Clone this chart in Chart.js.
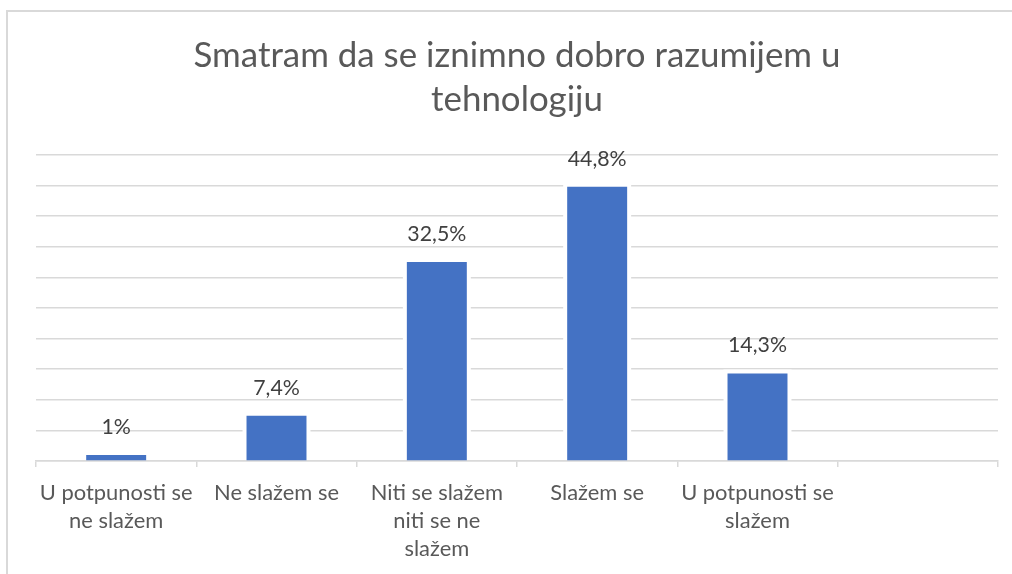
<!DOCTYPE html>
<html>
<head>
<meta charset="utf-8">
<script src="https://cdn.jsdelivr.net/npm/chart.js@4/dist/chart.umd.min.js"></script>
<style>
  html, body { margin: 0; padding: 0; background: #ffffff; }
  #wrap { position: relative; width: 1012px; height: 574px; }
</style>
</head>
<body>
<div id="wrap"><canvas id="c" width="1012" height="574"></canvas></div>
<script>
// ---- data ----
const titleLines = ["Smatram da se iznimno dobro razumijem u", "tehnologiju"];
const categories = [
  ["U potpunosti se", "ne slažem"],
  ["Ne slažem se"],
  ["Niti se slažem", "niti se ne", "slažem"],
  ["Slažem se"],
  ["U potpunosti se", "slažem"],
  [""]
];
const values = [1, 7.4, 32.5, 44.8, 14.3, null];
const yMin = 0, yMax = 50, yStep = 5;

// ---- styling helpers ----
const FAMILY = "Lato, 'Open Sans', 'Noto Sans', sans-serif";
function fitSize(text, targetWidth) {
  const ctx = document.createElement('canvas').getContext('2d');
  ctx.font = '100px ' + FAMILY;
  const w = ctx.measureText(text).width;
  return Math.round(100 * targetWidth / w * 10) / 10;
}
const titleSize = fitSize(titleLines[0], 647);
const labelSize = fitSize("U potpunosti se", 153);
const valueSize = fitSize("44,8%", 59);

const frame = {
  id: 'frame',
  beforeDraw(chart) {
    const ctx = chart.ctx;
    ctx.save();
    ctx.strokeStyle = '#d9d9d9';
    ctx.lineWidth = 2;
    ctx.beginPath();
    ctx.moveTo(7, 574);
    ctx.lineTo(7, 11);
    ctx.lineTo(1012, 11);
    ctx.stroke();
    ctx.restore();
  }
};

const barHalo = {
  id: 'barHalo',
  beforeDatasetsDraw(chart) {
    const ctx = chart.ctx;
    const meta = chart.getDatasetMeta(0);
    ctx.save();
    ctx.fillStyle = '#ffffff';
    meta.data.forEach((bar, i) => {
      if (values[i] == null) return;
      const p = bar.getProps(['x', 'y', 'base', 'width'], true);
      ctx.fillRect(p.x - p.width / 2 - 4, p.y - 4, p.width + 8, p.base - 1 - (p.y - 4));
    });
    ctx.restore();
  }
};

const valueLabels = {
  id: 'valueLabels',
  afterDatasetsDraw(chart) {
    const ctx = chart.ctx;
    const meta = chart.getDatasetMeta(0);
    ctx.save();
    ctx.fillStyle = '#404040';
    ctx.font = valueSize + 'px ' + FAMILY;
    ctx.textAlign = 'center';
    ctx.textBaseline = 'middle';
    meta.data.forEach((bar, i) => {
      const v = values[i];
      if (v == null) return;
      const p = bar.getProps(['x', 'y'], true);
      ctx.fillText(String(v).replace('.', ',') + '%', p.x, p.y - 28);
    });
    ctx.restore();
  }
};

new Chart(document.getElementById('c'), {
  type: 'bar',
  data: {
    labels: categories,
    datasets: [{
      data: values,
      backgroundColor: '#4472C4',
      borderWidth: 0,
      categoryPercentage: 1,
      barPercentage: 0.374
    }]
  },
  options: {
    responsive: false,
    animation: false,
    devicePixelRatio: 1,
    layout: { padding: { left: 36, right: 14, top: 0, bottom: -1 } },
    plugins: {
      legend: { display: false },
      tooltip: { enabled: false },
      title: {
        display: true,
        text: titleLines,
        color: '#595959',
        font: { family: FAMILY, size: titleSize, weight: 'normal', lineHeight: 44 / titleSize },
        padding: { top: 34, bottom: 33 }
      }
    },
    scales: {
      x: {
        offset: true,
        grid: {
          display: true,
          drawOnChartArea: false,
          drawTicks: true,
          tickLength: 6,
          color: '#d9d9d9',
          lineWidth: 1.5
        },
        border: { display: true, color: '#d9d9d9', width: 1.5 },
        ticks: {
          color: '#595959',
          font: { family: FAMILY, size: labelSize, lineHeight: 28 / labelSize },
          padding: 12,
          maxRotation: 0,
          minRotation: 0,
          autoSkip: false
        }
      },
      y: {
        min: yMin,
        max: yMax,
        ticks: { display: false, stepSize: yStep },
        grid: { color: '#d9d9d9', lineWidth: 1.5, drawTicks: false },
        border: { display: false }
      }
    }
  },
  plugins: [frame, barHalo, valueLabels]
});
</script>
</body>
</html>
